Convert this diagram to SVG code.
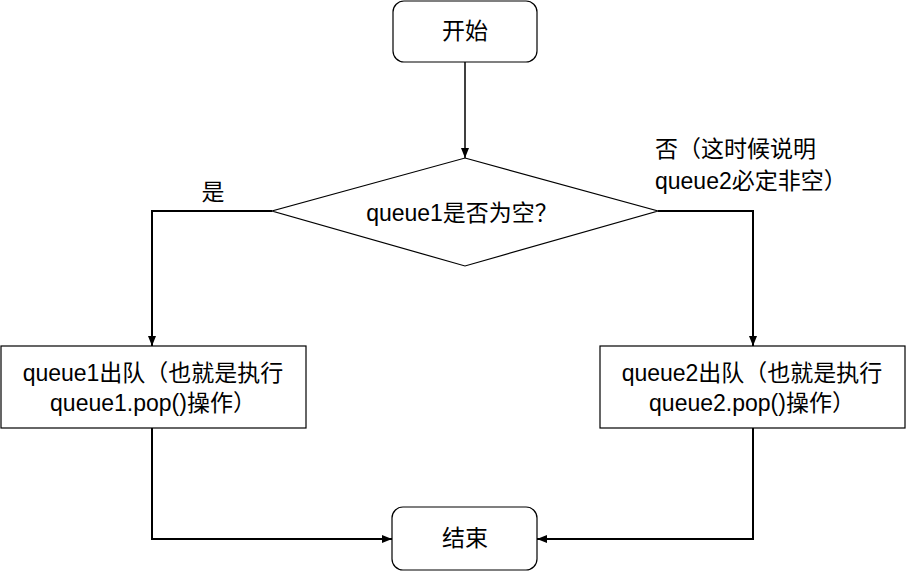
<svg xmlns="http://www.w3.org/2000/svg" width="906" height="571" viewBox="0 0 906 571">
<defs>
<style>
.n{fill:#fff;stroke:#000;stroke-width:1.2}
.t{font-family:"Liberation Sans","Noto Sans CJK SC",sans-serif;font-size:23px;fill:#000}
.c{fill:none;stroke:#000;stroke-width:2}
.c1{fill:none;stroke:#000;stroke-width:1.5}
</style>
<marker id="ah" viewBox="0 0 10 10" refX="10" refY="5" markerWidth="10" markerHeight="10" markerUnits="userSpaceOnUse" orient="auto">
<path d="M0,1 L10,5 L0,9 Z" fill="#000"/>
</marker>
</defs>
<rect width="906" height="571" fill="#fff"/>
<g id="connectors">
<line class="c1" x1="465" y1="62" x2="465" y2="158" marker-end="url(#ah)"/>
<polyline class="c" points="272,211 152,211 152,346" marker-end="url(#ah)"/>
<polyline class="c" points="658,211 753,211 753,346" marker-end="url(#ah)"/>
<polyline class="c" points="152,428 152,539 392,539" marker-end="url(#ah)"/>
<polyline class="c" points="753,428 753,539 537,539" marker-end="url(#ah)"/>
</g>
<g id="start">
<rect class="n" x="393" y="1" width="144" height="61" rx="11"/>
<text class="t" x="465" y="39" text-anchor="middle">开始</text>
</g>
<g id="decision">
<polygon class="n" points="465,158 658,211 465,266 272,211"/>
<text class="t" x="462" y="221" text-anchor="middle">queue1是否为空？</text>
</g>
<g id="label-yes">
<text class="t" x="213" y="200" text-anchor="middle">是</text>
</g>
<g id="label-no">
<text class="t" x="655" y="157">否（这时候说明</text>
<text class="t" x="655" y="189">queue2必定非空）</text>
</g>
<g id="pop1">
<rect class="n" x="1" y="346" width="305" height="82"/>
<text class="t" x="153" y="381" text-anchor="middle">queue1出队（也就是执行</text>
<text class="t" x="153" y="411" text-anchor="middle">queue1.pop()操作）</text>
</g>
<g id="pop2">
<rect class="n" x="600" y="346" width="305" height="82"/>
<text class="t" x="752" y="381" text-anchor="middle">queue2出队（也就是执行</text>
<text class="t" x="752" y="411" text-anchor="middle">queue2.pop()操作）</text>
</g>
<g id="end">
<rect class="n" x="392" y="507" width="145" height="63" rx="11"/>
<text class="t" x="465" y="546" text-anchor="middle">结束</text>
</g>
</svg>
